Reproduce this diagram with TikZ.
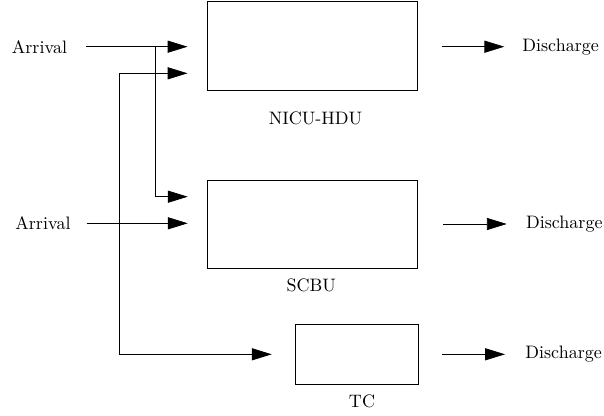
\documentclass[tikz,border=0pt]{standalone}
\usetikzlibrary{arrows.meta}
\begin{document}
\begin{tikzpicture}[x=0.555pt,y=-0.555pt,
  unitbox/.style={draw,rectangle,inner sep=0pt},
  lbl/.style={inner sep=0pt,font=\fontsize{10}{12}\selectfont},
  flow/.style={-{Triangle[length=11pt,width=6.7pt]}},
  wire/.style={line width=0.4pt}]
\useasboundingbox (0,0) rectangle (604,415);
% boxes
\node[unitbox,minimum width=210*0.555pt,minimum height=89*0.555pt] (nicu) at (312.7,46.2) {};
\node[unitbox,minimum width=210*0.555pt,minimum height=88.3*0.555pt] (scbu) at (312.7,224.2) {};
\node[unitbox,minimum width=122.3*0.555pt,minimum height=59.7*0.555pt] (tc) at (357,354.2) {};
% labels
\node[lbl] (nicul) at (315.5,118) {NICU-HDU};
\node[lbl] (scbul) at (311.3,285) {SCBU};
\node[lbl] (tcl) at (362,401) {TC};
\node[lbl] (arr1) at (39.5,47) {Arrival};
\node[lbl] (arr2) at (43,223.3) {Arrival};
\node[lbl,anchor=west] (dis1) at (522,46.7) {Discharge};
\node[lbl,anchor=west] (dis2) at (525.7,224) {Discharge};
\node[lbl,anchor=west] (dis3) at (525,354.3) {Discharge};
% coordinates
\coordinate (a1s) at (86,46.7);
\coordinate (a1e) at (187.5,46.7);
\coordinate (j1) at (155,46.7);
\coordinate (j1b) at (155,196.7);
\coordinate (s1e) at (187.7,196.7);
\coordinate (a2s) at (86.7,223.3);
\coordinate (a2e) at (187.7,223.3);
\coordinate (t1e) at (187.5,73.3);
\coordinate (t1c) at (119,73.3);
\coordinate (t2c) at (119,354.3);
\coordinate (t2e) at (271.7,354.3);
\coordinate (d1s) at (441.7,46.7);
\coordinate (d1e) at (504.3,46.7);
\coordinate (d2s) at (443.3,224);
\coordinate (d2e) at (506.7,224);
\coordinate (d3s) at (442.3,354.3);
\coordinate (d3e) at (505,354.3);
% connectors
\draw[wire,flow] (a1s) -- (a1e);
\draw[wire,flow] (j1) -- (j1b) -- (s1e);
\draw[wire,flow] (a2s) -- (a2e);
\draw[wire,flow] (t1c) -- (t1e);
\draw[wire,flow] (t1c) -- (t2c) -- (t2e);
\draw[wire,flow] (d1s) -- (d1e);
\draw[wire,flow] (d2s) -- (d2e);
\draw[wire,flow] (d3s) -- (d3e);
\end{tikzpicture}
\end{document}
